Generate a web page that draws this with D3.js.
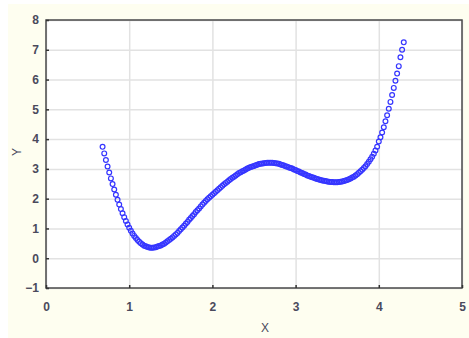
<!DOCTYPE html>
<html>
<head>
<meta charset="utf-8">
<script src="https://cdn.jsdelivr.net/npm/d3@7"></script>
<style>
  html, body { margin: 0; padding: 0; background: #ffffff; }
  svg { display: block; }
</style>
</head>
<body>
<div id="chart"></div>
<script>
// data
const xTicks = [0, 1, 2, 3, 4, 5];
const yTicks = [-1, 0, 1, 2, 3, 4, 5, 6, 7, 8];
const xLabel = "X";
const yLabel = "Y";

const xs = [
  0.68, 0.70, 0.72, 0.74, 0.76, 0.78, 0.80, 0.82, 0.84, 0.86, 0.88, 0.90, 0.92, 0.94, 0.96, 0.98,
  1.00, 1.02, 1.04, 1.06, 1.08, 1.10, 1.12, 1.14, 1.16, 1.18, 1.20, 1.22, 1.24, 1.26, 1.28, 1.30,
  1.32, 1.34, 1.36, 1.38, 1.40, 1.42, 1.44, 1.46, 1.48, 1.50, 1.52, 1.54, 1.56, 1.58, 1.60, 1.62,
  1.64, 1.66, 1.68, 1.70, 1.72, 1.74, 1.76, 1.78, 1.80, 1.82, 1.84, 1.86, 1.88, 1.90, 1.92, 1.94,
  1.96, 1.98, 2.00, 2.02, 2.04, 2.06, 2.08, 2.10, 2.12, 2.14, 2.16, 2.18, 2.20, 2.22, 2.24, 2.26,
  2.28, 2.30, 2.32, 2.34, 2.36, 2.38, 2.40, 2.42, 2.44, 2.46, 2.48, 2.50, 2.52, 2.54, 2.56, 2.58,
  2.60, 2.62, 2.64, 2.66, 2.68, 2.70, 2.72, 2.74, 2.76, 2.78, 2.80, 2.82, 2.84, 2.86, 2.88, 2.90,
  2.92, 2.94, 2.96, 2.98, 3.00, 3.02, 3.04, 3.06, 3.08, 3.10, 3.12, 3.14, 3.16, 3.18, 3.20, 3.22,
  3.24, 3.26, 3.28, 3.30, 3.32, 3.34, 3.36, 3.38, 3.40, 3.42, 3.44, 3.46, 3.48, 3.50, 3.52, 3.54,
  3.56, 3.58, 3.60, 3.62, 3.64, 3.66, 3.68, 3.70, 3.72, 3.74, 3.76, 3.78, 3.80, 3.82, 3.84, 3.86,
  3.88, 3.90, 3.92, 3.94, 3.96, 3.98, 4.00, 4.02, 4.04, 4.06, 4.08, 4.10, 4.12, 4.14, 4.16, 4.18,
  4.20, 4.22, 4.24, 4.26, 4.28, 4.30
];
const ys = [
  3.74, 3.52, 3.30, 3.08, 2.88, 2.68, 2.49, 2.31, 2.13, 1.96, 1.80, 1.65, 1.51, 1.38, 1.25, 1.13,
  1.02, 0.92, 0.83, 0.75, 0.68, 0.61, 0.55, 0.50, 0.46, 0.42, 0.40, 0.38, 0.36, 0.35, 0.35, 0.36,
  0.37, 0.39, 0.41, 0.43, 0.46, 0.49, 0.53, 0.57, 0.61, 0.65, 0.70, 0.75, 0.80, 0.85, 0.91, 0.97,
  1.03, 1.09, 1.16, 1.22, 1.29, 1.35, 1.42, 1.48, 1.55, 1.61, 1.67, 1.74, 1.80, 1.86, 1.92, 1.98,
  2.03, 2.08, 2.13, 2.18, 2.23, 2.28, 2.33, 2.38, 2.43, 2.48, 2.53, 2.57, 2.62, 2.66, 2.70, 2.74,
  2.78, 2.82, 2.86, 2.89, 2.92, 2.95, 2.98, 3.01, 3.04, 3.06, 3.08, 3.10, 3.12, 3.14, 3.16, 3.17,
  3.18, 3.19, 3.20, 3.21, 3.21, 3.21, 3.21, 3.20, 3.19, 3.18, 3.17, 3.15, 3.13, 3.11, 3.09, 3.07,
  3.05, 3.03, 3.01, 2.98, 2.96, 2.93, 2.91, 2.88, 2.86, 2.83, 2.81, 2.78, 2.76, 2.74, 2.72, 2.70,
  2.68, 2.66, 2.64, 2.63, 2.61, 2.60, 2.59, 2.58, 2.57, 2.56, 2.56, 2.55, 2.55, 2.55, 2.56, 2.57,
  2.58, 2.59, 2.61, 2.63, 2.65, 2.68, 2.71, 2.74, 2.78, 2.82, 2.87, 2.92, 2.97, 3.03, 3.09, 3.16,
  3.24, 3.32, 3.41, 3.51, 3.62, 3.74, 3.92, 4.06, 4.22, 4.40, 4.60, 4.80, 5.02, 5.25, 5.48, 5.72,
  5.96, 6.20, 6.45, 6.75, 7.00, 7.25
];

const W = 469, H = 338;
const margin = {top: 20, right: 7, bottom: 50, left: 46};
const innerW = W - margin.left - margin.right;
const innerH = H - margin.top - margin.bottom;

const svg = d3.select("#chart").append("svg")
  .attr("width", W)
  .attr("height", H);

// pale yellow panel
svg.append("rect")
  .attr("x", 8).attr("y", 4)
  .attr("width", W - 8).attr("height", H - 4)
  .attr("fill", "#fefef0");

const x = d3.scaleLinear().domain([0, 5]).range([0, innerW]);
const y = d3.scaleLinear().domain([-1, 8]).range([innerH, 0]);

const g = svg.append("g")
  .attr("transform", "translate(" + margin.left + "," + margin.top + ")");

g.append("rect")
  .attr("width", innerW).attr("height", innerH)
  .attr("fill", "#ffffff");

// grid
g.append("g")
  .attr("class", "grid")
  .attr("transform", "translate(0," + innerH + ")")
  .call(d3.axisBottom(x).tickValues(xTicks).tickSize(-innerH).tickFormat(""))
  .call(s => s.select(".domain").remove())
  .selectAll("line")
    .attr("stroke", "#e2e2e2")
    .attr("stroke-width", 1.5);

g.append("g")
  .attr("class", "grid")
  .call(d3.axisLeft(y).tickValues(yTicks).tickSize(-innerW).tickFormat(""))
  .call(s => s.select(".domain").remove())
  .selectAll("line")
    .attr("stroke", "#e2e2e2")
    .attr("stroke-width", 1.5);

// points
g.selectAll(".pt")
  .data(xs)
  .enter().append("circle")
    .attr("class", "pt")
    .attr("cx", (d, i) => x(xs[i]))
    .attr("cy", (d, i) => y(ys[i]))
    .attr("r", 2.4)
    .attr("fill", "none")
    .attr("stroke", "#3535ff")
    .attr("stroke-width", 1.2);

// frame
g.append("rect")
  .attr("width", innerW).attr("height", innerH)
  .attr("fill", "none")
  .attr("stroke", "#4a4a4a")
  .attr("stroke-width", 1.5);

// axes (inward ticks)
const xAxis = g.append("g")
  .attr("transform", "translate(0," + innerH + ")")
  .call(d3.axisBottom(x).tickValues(xTicks).tickSize(-3).tickPadding(14).tickFormat(d3.format("d")));
const yAxis = g.append("g")
  .call(d3.axisLeft(y).tickValues(yTicks).tickSize(-3).tickPadding(7).tickFormat(d3.format("d")));

[xAxis, yAxis].forEach(a => {
  a.select(".domain").remove();
  a.selectAll("line").attr("stroke", "#333").attr("stroke-width", 1.5);
  a.selectAll("text")
    .style("font-family", "'Liberation Sans', Arial, sans-serif")
    .style("font-size", "12px")
    .style("font-weight", "bold")
    .attr("fill", "#4a4a5c");
});

svg.append("text")
  .attr("x", 265)
  .attr("y", 332)
  .attr("text-anchor", "middle")
  .style("font-family", "'Liberation Sans', Arial, sans-serif")
  .style("font-size", "12px")
  .attr("fill", "#4a4a5c")
  .text(xLabel);

svg.append("text")
  .attr("transform", "translate(21,152) rotate(-90)")
  .attr("text-anchor", "middle")
  .style("font-family", "'Liberation Sans', Arial, sans-serif")
  .style("font-size", "12px")
  .attr("fill", "#4a4a5c")
  .text(yLabel);
</script>
</body>
</html>
